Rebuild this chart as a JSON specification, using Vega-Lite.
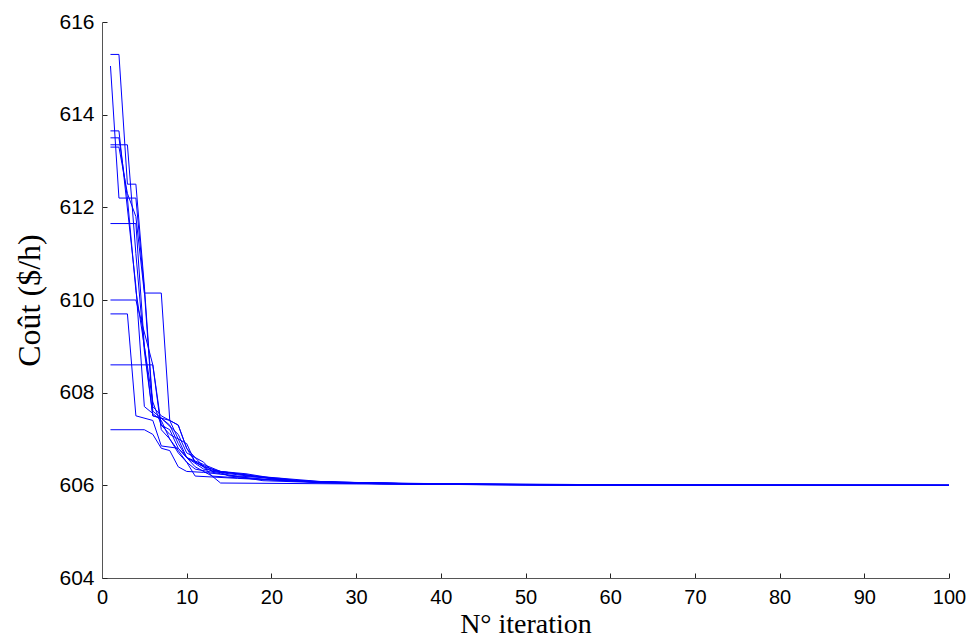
{
  "$schema": "https://vega.github.io/schema/vega-lite/v6.json",
  "width": 847,
  "height": 556,
  "autosize": "none",
  "padding": {"left": 102, "top": 22, "right": 22, "bottom": 66},
  "background": "white",
  "config": {"view": {"stroke": null}},
  "data": {"values": [
    {"run":1,"x":1,"y":615.05},{"run":1,"x":2,"y":612.2},{"run":1,"x":4,"y":612.2},{"run":1,"x":5,"y":610.2},{"run":1,"x":6,"y":607.6},{"run":1,"x":8,"y":607.3},{"run":1,"x":9,"y":606.9},{"run":1,"x":10,"y":606.6},{"run":1,"x":12,"y":606.35},{"run":1,"x":14,"y":606.3},{"run":1,"x":18,"y":606.2},{"run":1,"x":22,"y":606.1},{"run":1,"x":30,"y":606.05},{"run":1,"x":45,"y":606.02},{"run":1,"x":65,"y":606.0},{"run":1,"x":100,"y":606.0},
    {"run":2,"x":1,"y":615.3},{"run":2,"x":2,"y":615.3},{"run":2,"x":3,"y":612.5},{"run":2,"x":4,"y":612.5},{"run":2,"x":5,"y":610.3},{"run":2,"x":6,"y":607.7},{"run":2,"x":7,"y":607.5},{"run":2,"x":9,"y":607.3},{"run":2,"x":10,"y":606.8},{"run":2,"x":11,"y":606.5},{"run":2,"x":13,"y":606.3},{"run":2,"x":16,"y":606.25},{"run":2,"x":20,"y":606.15},{"run":2,"x":25,"y":606.08},{"run":2,"x":35,"y":606.04},{"run":2,"x":50,"y":606.02},{"run":2,"x":66,"y":606.0},{"run":2,"x":100,"y":606.0},
    {"run":3,"x":1,"y":613.65},{"run":3,"x":2,"y":613.65},{"run":3,"x":4,"y":610.3},{"run":3,"x":5,"y":607.7},{"run":3,"x":7,"y":607.4},{"run":3,"x":8,"y":607.0},{"run":3,"x":10,"y":606.5},{"run":3,"x":11,"y":606.35},{"run":3,"x":14,"y":606.25},{"run":3,"x":19,"y":606.1},{"run":3,"x":27,"y":606.05},{"run":3,"x":40,"y":606.02},{"run":3,"x":60,"y":606.0},{"run":3,"x":100,"y":606.0},
    {"run":4,"x":1,"y":613.5},{"run":4,"x":2,"y":613.5},{"run":4,"x":3,"y":612.2},{"run":4,"x":4,"y":610.2},{"run":4,"x":6,"y":607.8},{"run":4,"x":7,"y":607.3},{"run":4,"x":8,"y":607.2},{"run":4,"x":9,"y":606.8},{"run":4,"x":11,"y":606.4},{"run":4,"x":13,"y":606.2},{"run":4,"x":17,"y":606.15},{"run":4,"x":24,"y":606.08},{"run":4,"x":33,"y":606.03},{"run":4,"x":50,"y":606.01},{"run":4,"x":66,"y":606.0},{"run":4,"x":100,"y":606.0},
    {"run":5,"x":1,"y":613.35},{"run":5,"x":3,"y":613.35},{"run":5,"x":4,"y":611.0},{"run":5,"x":5,"y":608.9},{"run":5,"x":6,"y":607.5},{"run":5,"x":7,"y":607.45},{"run":5,"x":9,"y":607.1},{"run":5,"x":10,"y":606.7},{"run":5,"x":12,"y":606.5},{"run":5,"x":13,"y":606.3},{"run":5,"x":15,"y":606.25},{"run":5,"x":21,"y":606.12},{"run":5,"x":28,"y":606.06},{"run":5,"x":38,"y":606.03},{"run":5,"x":55,"y":606.01},{"run":5,"x":100,"y":606.0},
    {"run":6,"x":1,"y":611.65},{"run":6,"x":4,"y":611.65},{"run":6,"x":5,"y":609.0},{"run":6,"x":6,"y":607.5},{"run":6,"x":8,"y":607.4},{"run":6,"x":9,"y":607.0},{"run":6,"x":10,"y":606.6},{"run":6,"x":12,"y":606.45},{"run":6,"x":14,"y":606.3},{"run":6,"x":18,"y":606.2},{"run":6,"x":26,"y":606.08},{"run":6,"x":35,"y":606.04},{"run":6,"x":48,"y":606.02},{"run":6,"x":64,"y":606.0},{"run":6,"x":100,"y":606.0},
    {"run":7,"x":1,"y":610.0},{"run":7,"x":4,"y":610.0},{"run":7,"x":6,"y":608.6},{"run":7,"x":7,"y":607.3},{"run":7,"x":8,"y":607.1},{"run":7,"x":10,"y":606.9},{"run":7,"x":11,"y":606.5},{"run":7,"x":13,"y":606.35},{"run":7,"x":15,"y":606.2},{"run":7,"x":20,"y":606.12},{"run":7,"x":28,"y":606.06},{"run":7,"x":40,"y":606.03},{"run":7,"x":55,"y":606.01},{"run":7,"x":100,"y":606.0},
    {"run":8,"x":1,"y":609.7},{"run":8,"x":3,"y":609.7},{"run":8,"x":4,"y":607.5},{"run":8,"x":6,"y":607.4},{"run":8,"x":7,"y":606.85},{"run":8,"x":9,"y":606.8},{"run":8,"x":10,"y":606.6},{"run":8,"x":12,"y":606.4},{"run":8,"x":13,"y":606.2},{"run":8,"x":14,"y":606.05},{"run":8,"x":30,"y":606.03},{"run":8,"x":50,"y":606.01},{"run":8,"x":100,"y":606.0},
    {"run":9,"x":1,"y":608.6},{"run":9,"x":6,"y":608.6},{"run":9,"x":7,"y":607.2},{"run":9,"x":8,"y":607.0},{"run":9,"x":9,"y":606.7},{"run":9,"x":10,"y":606.5},{"run":9,"x":11,"y":606.2},{"run":9,"x":16,"y":606.15},{"run":9,"x":22,"y":606.1},{"run":9,"x":30,"y":606.05},{"run":9,"x":45,"y":606.02},{"run":9,"x":65,"y":606.0},{"run":9,"x":100,"y":606.0},
    {"run":10,"x":1,"y":607.2},{"run":10,"x":5,"y":607.2},{"run":10,"x":6,"y":607.1},{"run":10,"x":7,"y":606.8},{"run":10,"x":8,"y":606.75},{"run":10,"x":9,"y":606.4},{"run":10,"x":10,"y":606.3},{"run":10,"x":12,"y":606.28},{"run":10,"x":16,"y":606.2},{"run":10,"x":21,"y":606.15},{"run":10,"x":25,"y":606.06},{"run":10,"x":35,"y":606.03},{"run":10,"x":50,"y":606.01},{"run":10,"x":100,"y":606.0},
    {"run":11,"x":1,"y":613.3},{"run":11,"x":2,"y":613.3},{"run":11,"x":3,"y":612.3},{"run":11,"x":4,"y":611.8},{"run":11,"x":5,"y":610.15},{"run":11,"x":7,"y":610.15},{"run":11,"x":8,"y":607.4},{"run":11,"x":9,"y":607.3},{"run":11,"x":10,"y":606.8},{"run":11,"x":11,"y":606.6},{"run":11,"x":12,"y":606.4},{"run":11,"x":14,"y":606.3},{"run":11,"x":17,"y":606.25},{"run":11,"x":22,"y":606.1},{"run":11,"x":30,"y":606.06},{"run":11,"x":38,"y":606.04},{"run":11,"x":55,"y":606.02},{"run":11,"x":66,"y":606.0},{"run":11,"x":100,"y":606.0}
  ]},
  "mark": {"type": "line", "color": "#0000ff", "strokeWidth": 1, "clip": true},
  "encoding": {
    "x": {
      "field": "x", "type": "quantitative",
      "scale": {"domain": [0, 100], "nice": false, "zero": false},
      "axis": {
        "title": "N° iteration", "titleFont": "Liberation Serif", "titleFontSize": 28, "titleFontWeight": "normal", "titleColor": "#000", "titlePadding": 3,
        "values": [0,10,20,30,40,50,60,70,80,90,100],
        "labelFont": "Liberation Sans", "labelFontSize": 20, "labelColor": "#000", "labelPadding": 14,
        "tickSize": -5, "tickColor": "#222", "domainColor": "#555", "grid": false, "labelFlush": false
      }
    },
    "y": {
      "field": "y", "type": "quantitative",
      "scale": {"domain": [604, 616], "nice": false, "zero": false},
      "axis": {
        "title": "Coût ($/h)", "titleFont": "Liberation Serif", "titleFontSize": 32, "titleFontWeight": "normal", "titleColor": "#000", "titlePadding": 12,
        "values": [604,606,608,610,612,614,616],
        "labelFont": "Liberation Sans", "labelFontSize": 21, "labelColor": "#000", "labelPadding": 13,
        "tickSize": -5, "tickColor": "#222", "domainColor": "#555", "grid": false, "labelFlush": false
      }
    },
    "detail": {"field": "run", "type": "nominal"}
  }
}
